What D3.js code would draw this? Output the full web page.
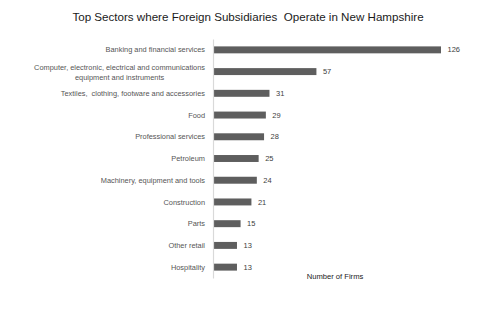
<!DOCTYPE html>
<html>
<head>
<meta charset="utf-8">
<script src="https://cdn.jsdelivr.net/npm/d3@7"></script>
<style>
  body { margin: 0; background: #fff; }
  text { font-family: "Liberation Sans", Arial, sans-serif; white-space: pre; }
</style>
</head>
<body>
<svg id="chart" width="480" height="313"></svg>
<script>
// data
var sectors = [
    ["Banking and financial services"],
    ["Computer, electronic, electrical and communications", "equipment and instruments"],
    ["Textiles,  clothing, footware and accessories"],
    ["Food"],
    ["Professional services"],
    ["Petroleum"],
    ["Machinery, equipment and tools"],
    ["Construction"],
    ["Parts"],
    ["Other retail"],
    ["Hospitality"]
];
var firms = [126, 57, 31, 29, 28, 25, 24, 21, 15, 13, 13];
var titleText = "Top Sectors where Foreign Subsidiaries  Operate in New Hampshire";
var axisTitle = "Number of Firms";

var margin = { top: 39, left: 213 },
    plotH = 239;

var svg = d3.select("#chart");

var idx = d3.range(firms.length);

var x = d3.scaleLinear()
    .domain([0, 126])
    .range([0, 227.5]);

var y = d3.scaleBand()
    .domain(idx)
    .range([0, plotH])
    .paddingInner(0.68)
    .paddingOuter(0.34);

var g = svg.append("g")
    .attr("transform", "translate(" + margin.left + "," + margin.top + ")");

// title
svg.append("text")
    .attr("x", 248)
    .attr("y", 21)
    .attr("text-anchor", "middle")
    .attr("font-size", "11.6px")
    .attr("fill", "#1a1a1a")
    .text(titleText);

// bars
g.selectAll("rect.bar")
    .data(idx)
    .enter().append("rect")
    .attr("class", "bar")
    .attr("x", 0.5)
    .attr("y", function(d) { return y(d); })
    .attr("width", function(d) { return x(firms[d]); })
    .attr("height", y.bandwidth())
    .attr("fill", "#5e5e5e");

// vertical axis line
var yAxis = d3.axisLeft(y).tickSize(0).tickFormat("");
g.append("g")
    .call(yAxis)
    .call(function(a) {
        a.select(".domain").attr("stroke", "#d9d9d9").attr("stroke-width", 1.2);
    });

// value labels
g.selectAll("text.val")
    .data(idx)
    .enter().append("text")
    .attr("class", "val")
    .attr("x", function(d) { return x(firms[d]) + 7; })
    .attr("y", function(d) { return y(d) + y.bandwidth() / 2; })
    .attr("dy", "0.35em")
    .attr("font-size", "7.5px")
    .attr("fill", "#404040")
    .text(function(d) { return firms[d]; });

// category labels
var labelRight = -8;
idx.forEach(function(d) {
    var lines = sectors[d];
    var cy = y(d) + y.bandwidth() / 2;
    var t = g.append("text")
        .attr("font-size", "7.4px")
        .attr("fill", "#555")
        .attr("text-anchor", "middle");
    lines.forEach(function(line, i) {
        t.append("tspan")
            .attr("x", 0)
            .attr("y", cy + (i - (lines.length - 1) / 2) * 10 + (lines.length > 1 ? 0.5 : 0))
            .attr("dy", "0.35em")
            .text(line);
    });
    var w = 0;
    t.selectAll("tspan").each(function() { w = Math.max(w, this.getComputedTextLength()); });
    t.selectAll("tspan").attr("x", labelRight - w / 2);
});

// axis title
svg.append("text")
    .attr("x", 335)
    .attr("y", 278.5)
    .attr("text-anchor", "middle")
    .attr("font-size", "7.6px")
    .attr("fill", "#1a1a1a")
    .text(axisTitle);
</script>
</body>
</html>
